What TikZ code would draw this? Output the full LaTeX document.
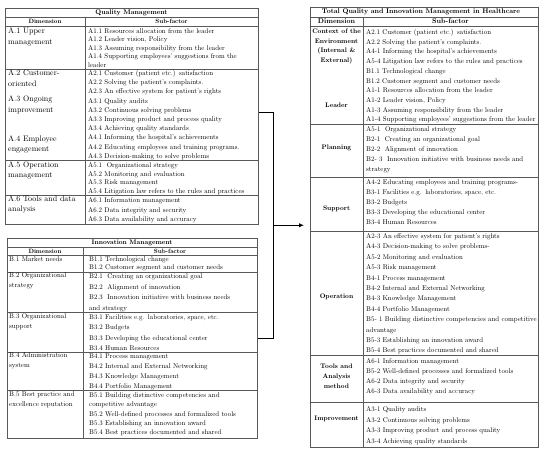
\documentclass[tikz,border=0pt]{standalone}
\usepackage{fontspec}
\setmainfont{lmroman10-regular.otf}[BoldFont=lmroman10-bold.otf]
\usetikzlibrary{positioning, arrows.meta, calc}

\begin{document}
\begin{tikzpicture}[x=1pt, y=-1pt,
    tbl/.style={draw=gray!70!black, line width=0.5pt, anchor=north west, inner sep=0pt},
    rule/.style={draw=gray!70!black, line width=0.5pt},
    ttl/.style={inner sep=0pt, font=\fontsize{#1}{#1}\selectfont\bfseries},
    sub/.style={anchor=base west, inner sep=0pt, align=left, text width=172pt, font=\fontsize{6.9}{#1}\selectfont},
    dimA/.style={anchor=west, inner sep=0pt, align=left, font=\fontsize{8}{#1}\selectfont},
    dimB/.style={anchor=west, inner sep=0pt, align=left, font=\fontsize{6.9}{10}\selectfont},
    dimC/.style={inner sep=0pt, align=center, font=\fontsize{6.6}{9.8}\selectfont\bfseries},
    bracket/.style={line width=1.4pt, black},
    arr/.style={-{Latex[length=5pt, width=4.5pt]}, line width=1.4pt, black}
]
\useasboundingbox (0,0) rectangle (550,451);

% Quality Management
\node[tbl, minimum width=253pt, minimum height=216pt] (qm) at (5,8) {};
\foreach \y in {17,26,69,160,195} \draw[rule] (5,\y) -- (258,\y);
\draw[rule] (85,17) -- (85,224);
\node[ttl=6.8] (qmtitle) at (131.5,12.5) {Quality Management};
\node[ttl=6.2] (qmdim) at (45,21.5) {Dimension};
\node[ttl=6.2] (qmsub) at (171.5,21.5) {Sub-factor};

\node[dimA=11] (a1) at (8,36.5) {A.1 Upper\\management};
\node[dimA=11] (a2) at (8,78.5) {A.2 Customer-\\oriented};
\node[dimA=11] (a3) at (8,104.5) {A.3 Ongoing\\improvement};
\node[dimA=9.5] (a4) at (8,144.5) {A.4 Employee\\engagement};
\node[dimA=10] (a5) at (8,170) {A.5 Operation\\management};
\node[dimA=9.5] (a6) at (8,204.5) {A.6 Tools and data\\analysis};

\node[sub=8.4, text width=168pt] (a1s) at (88,33.5) {A1.1 Resources allocation from the leader\\
A1.2 Leader vision, Policy\\
A1.3 Assuming responsibility from the leader\\
A1.4 Supporting employees' suggestions from the\\
leader};
\node[sub=9.2, text width=168pt] (a2s) at (88,75.5) {A2.1 Customer (patient etc.) satisfaction\\
A2.2 Solving the patient's complaints.\\
A2.3 An effective system for patient's rights\\
A3.1 Quality audits\\
A3.2 Continuous solving problems\\
A3.3 Improving product and process quality\\
A3.4 Achieving quality standards\\
A4.1 Informing the hospital's achievements\\
A4.2 Educating employees and training programs.\\
A4.3 Decision-making to solve problems};
\node[sub=8.7, text width=168pt] (a5s) at (88,167.5) {A5.1~ Organizational strategy\\
A5.2 Monitoring and evaluation\\
A5.3 Risk management\\
A5.4 Litigation law refers to the rules and practices};
\node[sub=9.5, text width=168pt] (a6s) at (88,202.5) {A6.1 Information management\\
A6.2 Data integrity and security\\
A6.3 Data availability and accuracy};

% Innovation Management
\node[tbl, minimum width=250pt, minimum height=200pt] (im) at (7,238) {};
\foreach \y in {247,255,272,312,352,390} \draw[rule] (7,\y) -- (257,\y);
\draw[rule] (83,247) -- (83,438);
\node[ttl=6.6] (imtitle) at (132,242.5) {Innovation Management};
\node[ttl=6.2] (imdim) at (45,251) {Dimension};
\node[ttl=6.2] (imsub) at (170,251) {Sub-factor};

\node[dimB] (b1) at (9,259) {B.1 Market needs};
\node[dimB] (b2) at (9,281) {B.2 Organizational\\strategy};
\node[dimB] (b3) at (9,322) {B.3 Organizational\\support};
\node[dimB] (b4) at (9,361) {B.4 Administration\\system};
\node[dimB] (b5) at (9,400) {B.5 Best practice and\\excellence reputation};

\node[sub=8.3, text width=166pt] (b1s) at (89,261.5) {B1.1 Technological change\\
B1.2 Customer segment and customer needs};
\node[sub=10.5, text width=166pt] (b2s) at (89,278.5) {B2.1~ Creating an organizational goal\\
B2.2~ Alignment of innovation\\
B2.3~ Innovation initiative with business needs\\
and strategy};
\node[sub=10.3, text width=166pt] (b3s) at (89,319.5) {B3.1 Facilities e.g. laboratories, space, etc.\\
B3.2 Budgets\\
B3.3 Developing the educational center\\
B3.4 Human Resources};
\node[sub=10, text width=166pt] (b4s) at (89,358.5) {B4.1 Process management\\
B4.2 Internal and External Networking\\
B4.3 Knowledge Management\\
B4.4 Portfolio Management};
\node[sub=9.3, text width=166pt] (b5s) at (89,397.5) {B5.1 Building distinctive competencies and\\
competitive advantage\\
B5.2 Well-defined processes and formalized tools\\
B5.3 Establishing an innovation award\\
B5.4 Best practices documented and shared};

% Total Quality and Innovation Management in Healthcare
\node[tbl, minimum width=228pt, minimum height=440pt] (tq) at (310,7) {};
\foreach \y in {17,26,124,177,231,355,402} \draw[rule] (310,\y) -- (538,\y);
\draw[rule] (363,17) -- (363,447);
\node[ttl=6.9] (tqtitle) at (421,12) {Total Quality and Innovation Management in Healthcare};
\node[ttl=7] (tqdim) at (336.5,21.5) {Dimension};
\node[ttl=7] (tqsub) at (450.5,21.5) {Sub-factor};

\node[dimC] (c1) at (336.5,46.5) {Context of the\\Environment\\(Internal \&\\External)};
\node[dimC] (c2) at (336.5,105) {Leader};
\node[dimC] (c3) at (336.5,148) {Planning};
\node[dimC] (c4) at (336.5,209) {Support};
\node[dimC] (c5) at (336.5,297) {Operation};
\node[dimC] (c6) at (336.5,376) {Tools and\\Analysis\\method};
\node[dimC] (c7) at (336.5,419) {Improvement};

\node[sub=9.7] (c1s) at (366,34.5) {A2.1 Customer (patient etc.) satisfaction\\
A2.2 Solving the patient's complaints.\\
A4-1 Informing the hospital's achievements\\
A5-4 Litigation law refers to the rules and practices\\
B1.1 Technological change\\
B1.2 Customer segment and customer needs\\
A1-1 Resources allocation from the leader\\
A1-2 Leader vision, Policy\\
A1-3 Assuming responsibility from the leader\\
A1-4 Supporting employees' suggestions from the leader};
\node[sub=10] (c3s) at (366,131.5) {A5-1~ Organizational strategy\\
B2-1~ Creating an organizational goal\\
B2-2~ Alignment of innovation\\
\makebox[169pt][s]{B2- 3~ Innovation initiative with business needs and}\\
strategy};
\node[sub=10] (c4s) at (366,184.5) {A4-2 Educating employees and training programs-\\
B3-1 Facilities e.g. laboratories, space, etc.\\
B3-2 Budgets\\
B3-3 Developing the educational center\\
B3-4 Human Resources};
\node[sub=10.4] (c5s) at (366,238.5) {A2-3 An effective system for patient's rights\\
A4-3 Decision-making to solve problems-\\
A5-2 Monitoring and evaluation\\
A5-3 Risk management\\
B4-1 Process management\\
B4-2 Internal and External Networking\\
B4-3 Knowledge Management\\
B4-4 Portfolio Management\\
\makebox[169pt][s]{B5- 1 Building distinctive competencies and competitive}\\
advantage\\
B5-3 Establishing an innovation award\\
B5-4 Best practices documented and shared};
\node[sub=10] (c6s) at (366,363.5) {A6-1 Information management\\
B5-2 Well-defined processes and formalized tools\\
A6-2 Data integrity and security\\
A6-3 Data availability and accuracy};
\node[sub=10.5] (c7s) at (366,411.5) {A3-1 Quality audits\\
A3-2 Continuous solving problems\\
A3-3 Improving product and process quality\\
A3-4 Achieving quality standards};

% bracket joining both tables and arrow into the combined one
\draw[bracket] ([yshift=4pt]qm.east) -- ++(15,0) coordinate (brtop) |- (im.east);
\coordinate (brmid) at ($(brtop)!0.5!(brtop |- im.east)$);
\draw[arr, shorten >=6pt] (brmid) -- (brmid -| tq.west);

\end{tikzpicture}
\end{document}
